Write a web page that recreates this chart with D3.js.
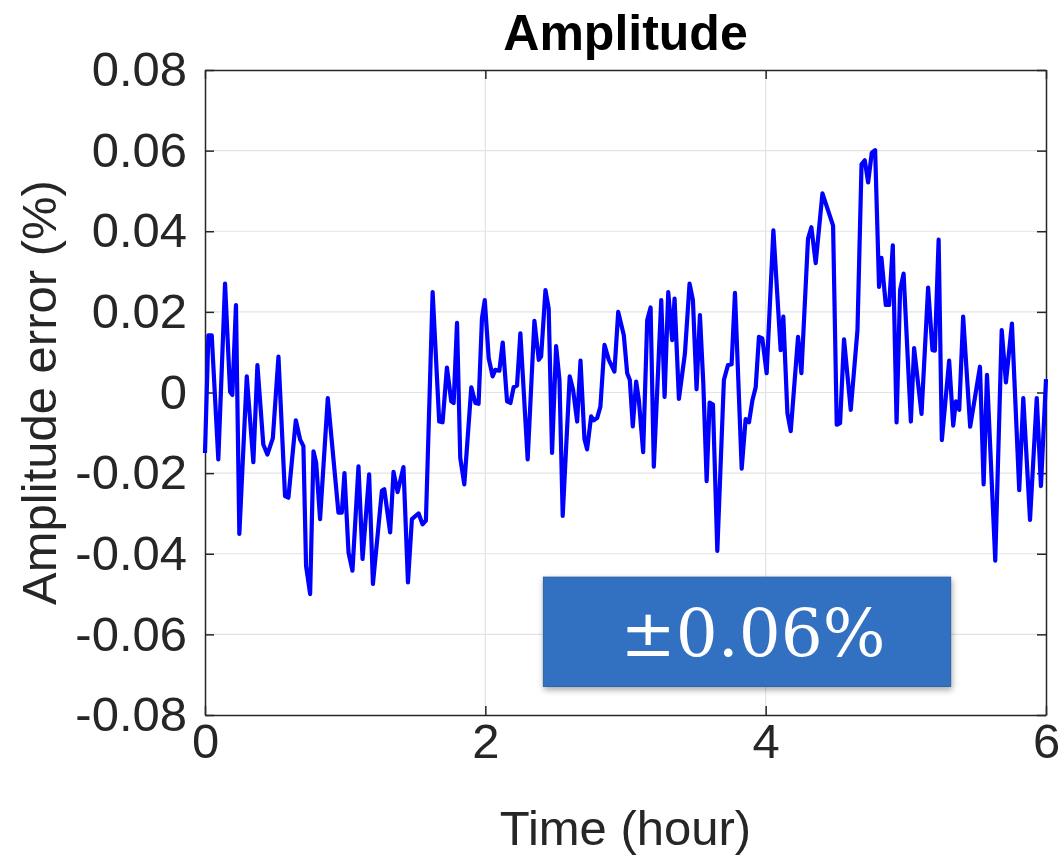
<!DOCTYPE html>
<html>
<head>
<meta charset="utf-8">
<script src="https://cdn.jsdelivr.net/npm/d3@7"></script>
<style>
  body { margin: 0; background: #fff; }
  svg { display: block; }
</style>
</head>
<body>
<div id="chart"></div>
<script>
// time (hour) and amplitude error (%)
const timeHours = [
  0.000, 0.024, 0.048, 0.095, 0.143, 0.179, 0.195, 0.221, 0.245, 0.298,
  0.345, 0.374, 0.416, 0.445, 0.484, 0.524, 0.571, 0.595, 0.648, 0.679,
  0.702, 0.721, 0.750, 0.774, 0.793, 0.821, 0.876, 0.952, 0.976, 0.995,
  1.024, 1.052, 1.095, 1.124, 1.171, 1.198, 1.262, 1.279, 1.321, 1.345,
  1.374, 1.416, 1.448, 1.476, 1.524, 1.552, 1.576, 1.624, 1.671, 1.695,
  1.726, 1.757, 1.774, 1.798, 1.821, 1.850, 1.900, 1.929, 1.952, 1.976,
  1.996, 2.024, 2.052, 2.071, 2.100, 2.124, 2.155, 2.179, 2.202, 2.226,
  2.250, 2.302, 2.350, 2.381, 2.398, 2.429, 2.452, 2.476, 2.505, 2.529,
  2.552, 2.602, 2.626, 2.655, 2.679, 2.707, 2.726, 2.755, 2.774, 2.798,
  2.821, 2.850, 2.881, 2.921, 2.948, 2.988, 3.012, 3.031, 3.052, 3.076,
  3.095, 3.126, 3.155, 3.179, 3.202, 3.255, 3.279, 3.305, 3.333, 3.350,
  3.381, 3.424, 3.457, 3.481, 3.507, 3.531, 3.555, 3.579, 3.600, 3.624,
  3.655, 3.702, 3.731, 3.757, 3.781, 3.829, 3.857, 3.881, 3.905, 3.929,
  3.952, 3.976, 4.007, 4.055, 4.107, 4.126, 4.155, 4.179, 4.231, 4.255,
  4.302, 4.326, 4.357, 4.405, 4.481, 4.507, 4.531, 4.559, 4.607, 4.655,
  4.684, 4.707, 4.731, 4.757, 4.781, 4.809, 4.826, 4.857, 4.881, 4.907,
  4.934, 4.959, 4.984, 5.036, 5.059, 5.112, 5.159, 5.190, 5.207, 5.234,
  5.257, 5.309, 5.338, 5.357, 5.381, 5.409, 5.459, 5.529, 5.555, 5.579,
  5.638, 5.684, 5.714, 5.757, 5.809, 5.838, 5.886, 5.934, 5.964, 6.000
];
const amplitudeError = [
  -0.0150, 0.0142, 0.0142, -0.0166, 0.0270, 0.0002, -0.0006, 0.0217, -0.0351, 0.0040,
  -0.0173, 0.0068, -0.0129, -0.0154, -0.0113, 0.0089, -0.0257, -0.0261, -0.0069, -0.0117,
  -0.0133, -0.0430, -0.0500, -0.0146, -0.0174, -0.0314, -0.0014, -0.0298, -0.0298, -0.0200,
  -0.0397, -0.0442, -0.0183, -0.0413, -0.0203, -0.0475, -0.0244, -0.0240, -0.0347, -0.0197,
  -0.0247, -0.0185, -0.0471, -0.0314, -0.0300, -0.0327, -0.0318, 0.0249, -0.0072, -0.0074,
  0.0062, -0.0022, -0.0026, 0.0173, -0.0162, -0.0228, 0.0013, -0.0026, -0.0028, 0.0184,
  0.0229, 0.0085, 0.0040, 0.0056, 0.0054, 0.0124, -0.0022, -0.0026, 0.0013, 0.0017,
  0.0147, -0.0166, 0.0178, 0.0081, 0.0089, 0.0254, 0.0208, -0.0150, 0.0115, 0.0031,
  -0.0306, 0.0040, 0.0007, -0.0072, 0.0079, -0.0115, -0.0141, -0.0059, -0.0069, -0.0063,
  -0.0035, 0.0118, 0.0081, 0.0052, 0.0200, 0.0142, 0.0048, 0.0031, -0.0084, 0.0027,
  -0.0018, -0.0148, 0.0180, 0.0211, -0.0184, 0.0229, -0.0011, 0.0249, 0.0130, 0.0233,
  -0.0016, 0.0097, 0.0270, 0.0229, 0.0008, 0.0192, 0.0023, -0.0220, -0.0025, -0.0030,
  -0.0393, 0.0031, 0.0068, 0.0070, 0.0247, -0.0189, -0.0066, -0.0074, -0.0020, 0.0013,
  0.0138, 0.0134, 0.0048, 0.0402, 0.0105, 0.0188, -0.0051, -0.0096, 0.0138, 0.0048,
  0.0381, 0.0410, 0.0321, 0.0494, 0.0414, -0.0080, -0.0076, 0.0132, -0.0043, 0.0155,
  0.0566, 0.0576, 0.0521, 0.0595, 0.0601, 0.0262, 0.0334, 0.0217, 0.0217, 0.0365,
  -0.0074, 0.0254, 0.0295, -0.0072, 0.0110, -0.0053, 0.0260, 0.0105, 0.0104, 0.0379,
  -0.0118, 0.0079, -0.0082, -0.0022, -0.0043, 0.0188, -0.0085, 0.0064, -0.0228, 0.0044,
  -0.0417, 0.0155, 0.0025, 0.0171, -0.0242, -0.0014, -0.0316, -0.0014, -0.0232, 0.0033
];
const xTicks = [0, 2, 4, 6];
const yTicks = [-0.08, -0.06, -0.04, -0.02, 0, 0.02, 0.04, 0.06, 0.08];
const xDomain = [0, 6];
const yDomain = [-0.08, 0.08];
const titleText = "Amplitude";
const xLabel = "Time (hour)";
const yLabel = "Amplitude error (%)";
const noteText = "\u00B10.06%";
// note box corners in data units (hour, %)
const noteBox = { t0: 2.414, t1: 5.32, v0: -0.0458, v1: -0.0729 };

const svgWidth = 1060, svgHeight = 855;
const margin = { top: 70, left: 205, right: 14, bottom: 140 };
const width = svgWidth - margin.left - margin.right;
const height = svgHeight - margin.top - margin.bottom;

const svg = d3.select("#chart").append("svg")
  .attr("width", svgWidth)
  .attr("height", svgHeight);

const defs = svg.append("defs");
const shadow = defs.append("filter").attr("id", "shadow")
  .attr("x", "-10%").attr("y", "-20%").attr("width", "120%").attr("height", "150%");
shadow.append("feDropShadow")
  .attr("dx", 1).attr("dy", 3).attr("stdDeviation", 3)
  .attr("flood-color", "#000").attr("flood-opacity", 0.35);

const g = svg.append("g")
  .attr("transform", "translate(" + margin.left + "," + margin.top + ")");

const x = d3.scaleLinear().domain(xDomain).range([0, width]);
const y = d3.scaleLinear().domain(yDomain).range([height, 0]);

// grid
g.append("g").selectAll("line.gx")
  .data(xTicks.slice(1, -1))
  .enter().append("line")
  .attr("x1", d => x(d)).attr("x2", d => x(d))
  .attr("y1", 0).attr("y2", height)
  .attr("stroke", "#e3e3e3").attr("stroke-width", 1.2);
g.append("g").selectAll("line.gy")
  .data(yTicks.slice(1, -1))
  .enter().append("line")
  .attr("x1", 0).attr("x2", width)
  .attr("y1", d => y(d)).attr("y2", d => y(d))
  .attr("stroke", "#e3e3e3").attr("stroke-width", 1.2);

const axisColor = "#262626";
const tickFont = "'Liberation Sans', Arial, Helvetica, sans-serif";

// axes with inward ticks (MATLAB style)
const xAxis = g.append("g")
  .attr("transform", "translate(0," + height + ")")
  .call(d3.axisBottom(x).tickValues(xTicks).tickSizeInner(-9).tickSizeOuter(0).tickPadding(8).tickFormat(d3.format("d")));
const xAxisTop = g.append("g")
  .call(d3.axisTop(x).tickValues(xTicks).tickSizeInner(-9).tickSizeOuter(0).tickFormat(""));
const yAxis = g.append("g")
  .call(d3.axisLeft(y).tickValues(yTicks).tickSizeInner(-9).tickSizeOuter(0).tickPadding(18).tickFormat(d3.format(".2f")));
const yAxisRight = g.append("g")
  .attr("transform", "translate(" + width + ",0)")
  .call(d3.axisRight(y).tickValues(yTicks).tickSizeInner(-9).tickSizeOuter(0).tickFormat(""));

[xAxis, xAxisTop, yAxis, yAxisRight].forEach(a => {
  a.selectAll("path.domain").attr("stroke", axisColor).attr("stroke-width", 1.5);
  a.selectAll(".tick line").attr("stroke", axisColor).attr("stroke-width", 1.5);
  a.selectAll("text")
    .attr("fill", "#262626")
    .style("font-family", tickFont)
    .style("font-size", "49px");
});
yAxis.selectAll("text").text(d => d === 0 ? "0" : d3.format(".2f")(d).replace("\u2212", "-"));
xAxis.selectAll("text").attr("dy", "0.71em");

// data line
const line = d3.line()
  .x((d, i) => x(timeHours[i]))
  .y(d => y(d));

g.append("path")
  .datum(amplitudeError)
  .attr("fill", "none")
  .attr("stroke", "#0000ff")
  .attr("stroke-width", 4.2)
  .attr("stroke-linejoin", "round")
  .attr("d", line);

// note box
g.append("rect")
  .attr("x", x(noteBox.t0))
  .attr("y", y(noteBox.v0))
  .attr("width", x(noteBox.t1) - x(noteBox.t0))
  .attr("height", y(noteBox.v1) - y(noteBox.v0))
  .attr("fill", "#3171c2")
  .attr("stroke", "#2a5f9f")
  .attr("stroke-width", 1)
  .attr("filter", "url(#shadow)");

g.append("text")
  .attr("x", (x(noteBox.t0) + x(noteBox.t1)) / 2 + 6)
  .attr("y", (y(noteBox.v0) + y(noteBox.v1)) / 2)
  .attr("dy", "0.36em")
  .attr("text-anchor", "middle")
  .attr("fill", "#fff")
  .style("font-family", "'DejaVu Serif', 'Liberation Serif', serif")
  .style("font-size", "66px")
  .text(noteText);

// title and labels
svg.append("text")
  .attr("x", margin.left + width / 2)
  .attr("y", 50)
  .attr("text-anchor", "middle")
  .attr("fill", "#000")
  .style("font-family", tickFont)
  .style("font-weight", "bold")
  .style("font-size", "50px")
  .text(titleText);

svg.append("text")
  .attr("x", margin.left + width / 2)
  .attr("y", 845)
  .attr("text-anchor", "middle")
  .attr("fill", "#262626")
  .style("font-family", tickFont)
  .style("font-size", "49px")
  .text(xLabel);

svg.append("text")
  .attr("transform", "translate(56," + (margin.top + height / 2) + ") rotate(-90)")
  .attr("text-anchor", "middle")
  .attr("fill", "#262626")
  .style("font-family", tickFont)
  .style("font-size", "49px")
  .text(yLabel);
</script>
</body>
</html>
